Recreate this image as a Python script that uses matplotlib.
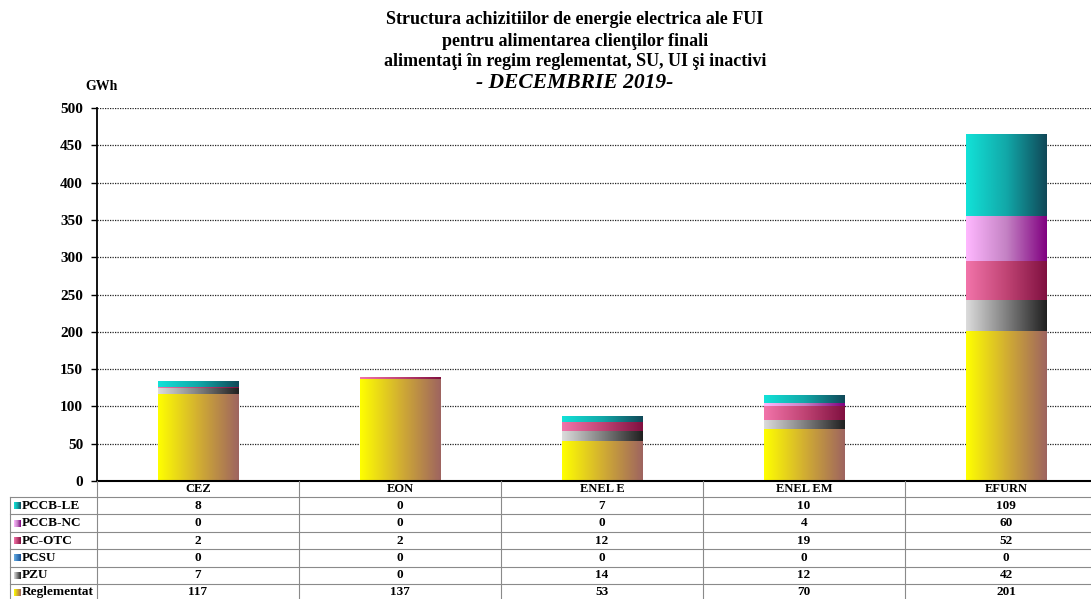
import numpy as np
import matplotlib
matplotlib.use("Agg")
from matplotlib import pyplot as plt
from matplotlib.colors import LinearSegmentedColormap
from matplotlib.lines import Line2D
from matplotlib.transforms import blended_transform_factory

plt.rcParams['font.family'] = ['Liberation Serif', 'DejaVu Serif']
plt.rcParams['font.weight'] = 'bold'

companies = ['CEZ', 'EON', 'ENEL E', 'ENEL EM', 'EFURN']
reglementat = [117, 137, 53, 70, 201]
pzu = [7, 0, 14, 12, 42]
pcsu = [0, 0, 0, 0, 0]
pc_otc = [2, 2, 12, 19, 52]
pccb_nc = [0, 0, 0, 4, 60]
pccb_le = [8, 0, 7, 10, 109]

# stacked from bottom to top
series_names = ['Reglementat', 'PZU', 'PCSU', 'PC-OTC', 'PCCB-NC', 'PCCB-LE']
series_vals = [reglementat, pzu, pcsu, pc_otc, pccb_nc, pccb_le]
series_cols = [
    ['#FFFF00', '#D2AE32', '#9E6460'],
    ['#DCDCDC', '#808080', '#202020'],
    ['#6AAEE0', '#3A7EC0', '#1A4E8C'],
    ['#F274AA', '#C04474', '#801040'],
    ['#FFB8FF', '#C482C4', '#800080'],
    ['#12E2D8', '#12A8A8', '#104858'],
]
cmaps = [LinearSegmentedColormap.from_list(n, c) for n, c in zip(series_names, series_cols)]

W, H = 1091, 599
def fx(px): return px / W
def fy(py): return 1 - py / H

fig = plt.figure(figsize=(W / 100, H / 100), dpi=100)
ax = fig.add_axes([fx(97), fy(481), (1107 - 97) / W, (481 - 108) / H])

grad = np.linspace(0, 1, 256).reshape(1, -1)
x = np.arange(len(companies))
bottom = np.zeros(len(companies))
for vals, cm in zip(series_vals, cmaps):
    bars = ax.bar(x, vals, width=0.4, bottom=bottom, color='none', edgecolor='none')
    for r in bars:
        if r.get_height() > 0:
            ax.imshow(grad, extent=[r.get_x(), r.get_x() + r.get_width(), r.get_y(), r.get_y() + r.get_height()],
                      aspect='auto', cmap=cm, zorder=2, interpolation='bilinear')
    bottom += np.array(vals)

ax.set_xlim(-0.5, len(companies) - 0.5)
ax.set_ylim(0, 500)
ax.set_yticks(np.arange(0, 501, 50))
ax.set_xticks([])
ax.yaxis.grid(True, linestyle=(0, (1, 1)), color='#222222', linewidth=0.9)
ax.set_axisbelow(True)
for s in ['top', 'right']:
    ax.spines[s].set_visible(False)
ax.spines['left'].set_linewidth(1.3)
ax.spines['bottom'].set_linewidth(1.5)
ax.tick_params(axis='y', length=4, width=1, pad=6, labelsize=11)
for t in ax.get_yticklabels():
    t.set_fontweight('bold')

fig.text(fx(102), fy(86), 'GWh', ha='center', va='center', fontsize=10, fontweight='bold')

title_lines = ['Structura achizitiilor de energie electrica ale FUI',
               'pentru alimentarea clienţilor finali',
               'alimentaţi în regim reglementat, SU, UI şi inactivi']
for line, py in zip(title_lines, [20, 41, 62]):
    fig.text(fx(575), fy(py), line, ha='center', va='center', fontsize=13, fontweight='bold')
fig.text(fx(575), fy(83), '- DECEMBRIE 2019-', ha='center', va='center', fontsize=15.5,
         fontweight='bold', fontstyle='italic')

# data table under the axis
tr = blended_transform_factory(ax.transData, fig.transFigure)
gray = '#8a8a8a'
head_top, head_bot, rh = 481, 497, 17.4
for i, c in enumerate(companies):
    fig.text(i, fy((head_top + head_bot) / 2), c, transform=tr, ha='center', va='center', fontsize=9)
for b in np.arange(-0.5, len(companies), 1.0):
    fig.add_artist(Line2D([b, b], [fy(head_top), 0], transform=tr, color=gray, lw=0.8))
fig.add_artist(Line2D([fx(10), fx(10)], [fy(head_bot), 0], transform=fig.transFigure, color=gray, lw=0.8))

row_names = series_names[::-1]
row_vals = series_vals[::-1]
row_cmaps = cmaps[::-1]
for k in range(len(row_names) + 1):
    yl = head_bot + k * rh
    fig.add_artist(Line2D([fx(10), 1], [fy(yl), fy(yl)], transform=fig.transFigure, color=gray, lw=0.8))
for k, (name, vals, cm) in enumerate(zip(row_names, row_vals, row_cmaps)):
    yc = min(head_bot + (k + 0.5) * rh, 592)
    fig.text(fx(22), fy(yc), name, ha='left', va='center', fontsize=9.5, fontweight='bold')
    sq = fig.add_axes([fx(14), fy(yc + 3.5), 7 / W, 7 / H])
    sq.imshow(grad, aspect='auto', cmap=cm, interpolation='bilinear')
    sq.axis('off')
    for i, v in enumerate(vals):
        fig.text(i, fy(yc), str(v), transform=tr, ha='center', va='center', fontsize=9.5)

fig.savefig('out.png', dpi=100)
